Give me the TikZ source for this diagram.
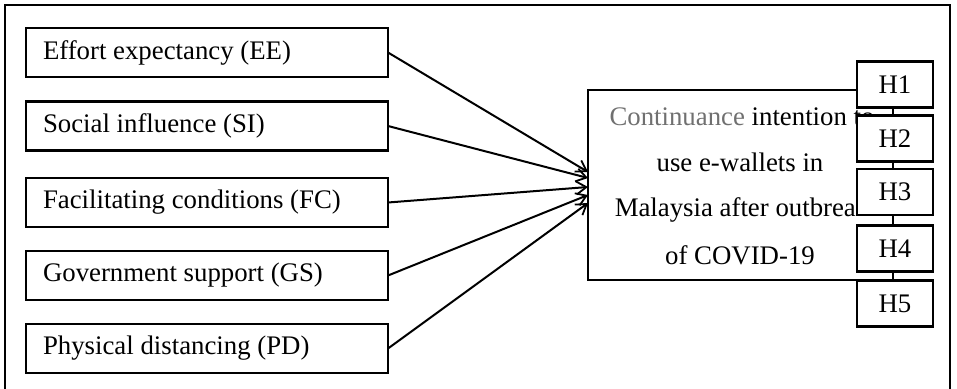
\documentclass[tikz,border=0pt]{standalone}
\usepackage{fontspec}
\setmainfont{Liberation Serif}
\usetikzlibrary{arrows.meta}
\definecolor{contgray}{RGB}{112,112,112}
\begin{document}
\begin{tikzpicture}[x=1pt,y=-1pt,
  every node/.style={inner sep=0pt,outer sep=0pt},
  factor/.style={draw,line width=2.1pt,minimum width=362pt,minimum height=49pt},
  lbl/.style={font=\fontsize{26.8}{30}\selectfont,anchor=west},
  mlbl/.style={font=\fontsize{26.8}{30}\selectfont},
  hyp/.style={draw,line width=2.3pt,fill=white,minimum width=76pt,minimum height=46pt,font=\fontsize{26.8}{30}\selectfont},
  arr/.style={line width=2pt,-{Straight Barb[length=10pt,width=13pt,line width=1.8pt]}}]
\useasboundingbox (0,0) rectangle (957,388);
\draw[line width=2.8pt] (5,392) -- (5,5) -- (950,5) -- (950,392);
% left factors
\node[factor] (ee) at (207,52.5) {};
\node[factor] (si) at (207,126) {};
\node[factor] (fc) at (207,202.5) {};
\node[factor] (gs) at (207,275.5) {};
\node[factor] (pd) at (207,348.5) {};
\node[lbl] (eet) at (43,52.5) {Effort expectancy (EE)};
\node[lbl] (sit) at (43,126) {Social influence (SI)};
\node[lbl] (fct) at (43,202.5) {Facilitating conditions (FC)};
\node[lbl] (gst) at (43,275.5) {Government support (GS)};
\node[lbl] (pdt) at (43,348.5) {Physical distancing (PD)};
% main box
\node[draw,line width=2.1pt,minimum width=305pt,minimum height=190pt] (main) at (740.5,185) {};
\node[mlbl] (m1) at (742,117) {\textcolor{contgray}{Continuance} intention to};
\node[mlbl] (m2) at (740,162) {use e-wallets in};
\node[mlbl] (m3) at (742,210) {Malaysia after outbreak};
\node[mlbl] (m4) at (740,255) {of COVID-19};
% arrow targets
\coordinate (t1) at (588,172);
\coordinate (t2) at (588,178);
\coordinate (t3) at (588,187);
\coordinate (t4) at (588,195);
\coordinate (t5) at (588,203);
\draw[arr] (ee.east) -- (t1);
\draw[arr] (si.east) -- (t2);
\draw[arr] (fc.east) -- (t3);
\draw[arr] (gs.east) -- (t4);
\draw[arr] (pd.east) -- (t5);
% hypotheses
\draw[line width=2pt] (893,84.5) -- (893,303.5);
\node[hyp] (h1) at (895,84.5) {H1};
\node[hyp] (h2) at (895,138.5) {H2};
\node[hyp] (h3) at (895,192) {H3};
\node[hyp] (h4) at (895,248.5) {H4};
\node[hyp] (h5) at (895,303.5) {H5};
\end{tikzpicture}
\end{document}
